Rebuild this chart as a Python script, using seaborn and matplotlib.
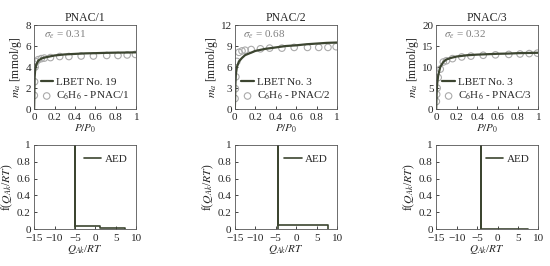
import matplotlib
matplotlib.use("Agg")
import matplotlib.pyplot as plt
import seaborn as sns

# isotherm data: (P/P0, m_a)
titles = ["PNAC/1", "PNAC/2", "PNAC/3"]
sigma_labels = ["0.31", "0.68", "0.32"]
fit_names = ["LBET No. 19", "LBET No. 3", "LBET No. 3"]

exp_p = [0.002, 0.005, 0.01, 0.02, 0.04, 0.07, 0.1, 0.16, 0.25, 0.34, 0.46, 0.58, 0.71, 0.82, 0.91, 0.99]
exp_1 = [1.3, 2.6, 4.0, 4.5, 4.7, 4.8, 4.85, 4.9, 5.0, 5.0, 5.05, 5.05, 5.1, 5.1, 5.15, 5.2]
exp_2 = [1.5, 2.9, 4.6, 6.8, 8.1, 8.3, 8.4, 8.5, 8.6, 8.7, 8.7, 8.8, 8.8, 8.8, 8.8, 8.9]
exp_3 = [1.8, 3.5, 5.0, 7.5, 9.5, 11.2, 11.5, 12.0, 12.4, 12.6, 12.8, 12.9, 13.0, 13.1, 13.2, 13.3]

fit_p = [0, 0.005, 0.01, 0.02, 0.04, 0.07, 0.1, 0.15, 0.2, 0.3, 0.4, 0.5, 0.6, 0.7, 0.8, 0.9, 1.0]
fit_1 = [0, 3.0, 3.7, 4.2, 4.6, 4.8, 4.9, 5.0, 5.1, 5.2, 5.25, 5.3, 5.32, 5.35, 5.37, 5.38, 5.4]
fit_2 = [0, 3.5, 5.0, 6.0, 6.8, 7.3, 7.7, 8.0, 8.3, 8.6, 8.8, 9.0, 9.1, 9.25, 9.35, 9.45, 9.5]
fit_3 = [0, 4.0, 6.0, 8.0, 10.0, 11.2, 11.8, 12.2, 12.5, 12.8, 12.95, 13.05, 13.15, 13.2, 13.3, 13.35, 13.4]

y_max = [8, 12, 20]
y_step = [2, 3, 5]
sigma_pos = [(0.1, 6.8), (0.08, 10.2), (0.08, 17.0)]

# adsorption energy distributions (step outlines)
aed_x1 = [-5, -5, -5, 1.2, 1.2, 7.2, 7.2]
aed_y1 = [0, 1, 0.035, 0.035, 0.01, 0.01, 0]
aed_x2 = [-4.5, -4.5, -4.5, 7.7, 7.7]
aed_y2 = [0, 1, 0.05, 0.05, 0]
aed_x3 = [-4, -4, -4, 7.5, 7.5]
aed_y3 = [0, 1, 0.005, 0.005, 0]

exp_sets = [exp_1, exp_2, exp_3]
fit_sets = [fit_1, fit_2, fit_3]
aed_sets = [(aed_x1, aed_y1), (aed_x2, aed_y2), (aed_x3, aed_y3)]

sns.set_style("ticks")
plt.rcParams["font.family"] = ["Liberation Serif", "DejaVu Serif"]
plt.rcParams["mathtext.fontset"] = "stix"
plt.rcParams["font.size"] = 8
plt.rcParams["xtick.direction"] = "in"
plt.rcParams["ytick.direction"] = "in"
plt.rcParams["xtick.major.size"] = 2.5
plt.rcParams["ytick.major.size"] = 2.5

line_col = "#3c4530"
pt_col = "#aaaaaa"

fig = plt.figure(figsize=(5.5, 2.66), dpi=100)
lefts = [0.062, 0.427, 0.793]
w, h = 0.186, 0.316

for i in range(3):
    ax = fig.add_axes([lefts[i], 0.590, w, h])
    sns.lineplot(x=fit_p, y=fit_sets[i], ax=ax, color=line_col, lw=1.6,
                 label=fit_names[i])
    sns.scatterplot(x=exp_p, y=exp_sets[i], ax=ax, marker="o", s=22,
                    facecolor="none", edgecolor=pt_col, linewidth=0.8,
                    label="C$_6$H$_6$ - " + titles[i])
    ax.set_xlim(0, 1)
    ax.set_ylim(0, y_max[i])
    ax.set_xticks([0, 0.2, 0.4, 0.6, 0.8, 1])
    ax.set_xticklabels(["0", "0.2", "0.4", "0.6", "0.8", "1"])
    ax.set_yticks(range(0, y_max[i] + 1, y_step[i]))
    ax.set_title(titles[i], fontsize=8.5, pad=3)
    ax.set_xlabel("$P/P_0$", labelpad=0)
    ax.set_ylabel("$m_a$ [mmol/g]", fontsize=8.5, labelpad=1)
    ax.text(sigma_pos[i][0], sigma_pos[i][1], r"$\sigma_e$ = " + sigma_labels[i],
            color="#808080", fontsize=8)
    ax.legend(loc="lower right", frameon=False, fontsize=8, handlelength=1.1,
              handletextpad=0.3, borderaxespad=0.2, labelspacing=0.3)
    ax.tick_params(labelsize=8, width=0.6)
    ax.tick_params(axis="x", pad=3)
    ax.tick_params(axis="y", pad=2)
    for s in ax.spines.values():
        s.set_linewidth(0.6)
        s.set_color("#555555")

for i in range(3):
    ax = fig.add_axes([lefts[i], 0.139, w, h])
    ax_x, ax_y = aed_sets[i]
    ax.plot(ax_x, ax_y, color=line_col, lw=1.2, label="AED")
    ax.set_xlim(-15, 10)
    ax.set_ylim(0, 1)
    ax.set_xticks([-15, -10, -5, 0, 5, 10])
    ax.set_yticks([0, 0.2, 0.4, 0.6, 0.8, 1])
    ax.set_yticklabels(["0", "0.2", "0.4", "0.6", "0.8", "1"])
    ax.set_xlabel("$Q_{Ak}$/$RT$", labelpad=0)
    ax.set_ylabel("f($Q_{Ak}$/$RT$)", fontsize=8.5, labelpad=1)
    ax.legend(loc="upper right", frameon=False, fontsize=8, handlelength=1.6,
              handletextpad=0.3, borderaxespad=0.4)
    ax.tick_params(labelsize=8, width=0.6)
    ax.tick_params(axis="x", pad=3.5)
    ax.tick_params(axis="y", pad=2.5)
    for s in ax.spines.values():
        s.set_linewidth(0.6)
        s.set_color("#555555")

fig.savefig("out.png", dpi=100, facecolor="white")
